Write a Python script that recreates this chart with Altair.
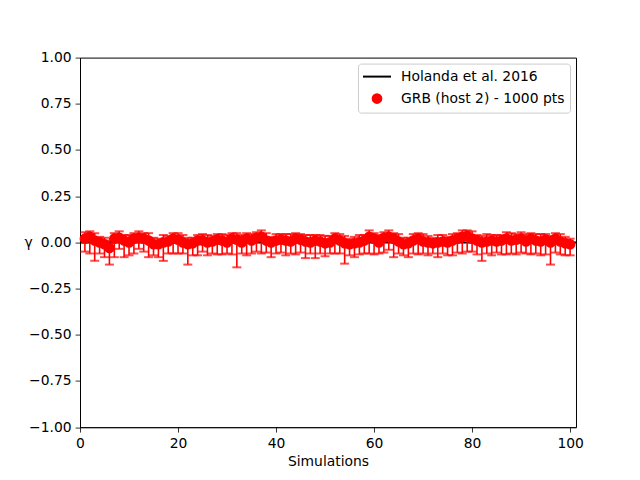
import altair as alt
import pandas as pd

# ---- data ----
sims = list(range(1, 101))
gamma = [0.02, 0.03, 0.01, 0.00, -0.01, -0.03, 0.02, 0.025, 0.01, 0.00,
         0.02, 0.025, 0.02, 0.01, -0.01, -0.01, 0.00, 0.005, 0.02, 0.015,
         0.00, -0.01, -0.005, 0.01, 0.01, 0.00, 0.005, 0.015, 0.01, 0.00,
         0.02, 0.015, 0.00, 0.02, 0.01, 0.025, 0.03, 0.01, 0.00, 0.01,
         0.015, 0.01, 0.005, 0.02, 0.015, 0.005, 0.00, 0.01, 0.005, -0.005,
         0.00, 0.02, 0.01, -0.005, -0.01, -0.005, 0.00, 0.01, 0.03, 0.02,
         0.00, 0.025, 0.03, 0.02, 0.005, -0.01, -0.005, 0.01, 0.02, 0.005,
         0.00, -0.005, 0.00, 0.005, 0.00, 0.01, 0.02, 0.03, 0.035, 0.02,
         0.01, 0.00, 0.005, 0.01, 0.005, 0.01, 0.02, 0.01, 0.015, 0.02,
         0.005, 0.02, 0.01, 0.005, 0.015, 0.00, 0.02, 0.005, -0.005, -0.01]
err_hi = [0.035, 0.03, 0.04, 0.03, 0.035, 0.04, 0.03, 0.035, 0.03, 0.04,
          0.03, 0.035, 0.03, 0.04, 0.035, 0.03, 0.04, 0.03, 0.03, 0.035,
          0.04, 0.035, 0.03, 0.03, 0.035, 0.04, 0.03, 0.03, 0.035, 0.04,
          0.03, 0.035, 0.04, 0.03, 0.035, 0.03, 0.035, 0.04, 0.03, 0.035,
          0.03, 0.035, 0.04, 0.03, 0.03, 0.035, 0.04, 0.03, 0.035, 0.04,
          0.035, 0.03, 0.035, 0.04, 0.03, 0.035, 0.04, 0.03, 0.035, 0.03,
          0.04, 0.03, 0.035, 0.03, 0.04, 0.035, 0.03, 0.035, 0.03, 0.04,
          0.035, 0.03, 0.04, 0.035, 0.03, 0.035, 0.03, 0.035, 0.03, 0.04,
          0.03, 0.035, 0.04, 0.03, 0.035, 0.03, 0.035, 0.04, 0.03, 0.035,
          0.04, 0.03, 0.035, 0.04, 0.03, 0.035, 0.03, 0.04, 0.035, 0.03]
err_lo = [0.07, 0.09, 0.11, 0.06, 0.07, 0.09, 0.10, 0.06, 0.09, 0.07,
          0.08, 0.06, 0.07, 0.09, 0.06, 0.07, 0.10, 0.065, 0.08, 0.075,
          0.06, 0.11, 0.065, 0.08, 0.06, 0.07, 0.065, 0.08, 0.075, 0.06,
          0.085, 0.15, 0.06, 0.09, 0.07, 0.075, 0.09, 0.065, 0.08, 0.07,
          0.07, 0.08, 0.065, 0.085, 0.07, 0.09, 0.06, 0.095, 0.065, 0.07,
          0.06, 0.08, 0.07, 0.11, 0.06, 0.075, 0.065, 0.07, 0.09, 0.085,
          0.06, 0.08, 0.07, 0.10, 0.065, 0.06, 0.075, 0.07, 0.085, 0.065,
          0.07, 0.055, 0.08, 0.065, 0.07, 0.08, 0.075, 0.09, 0.085, 0.07,
          0.075, 0.10, 0.065, 0.08, 0.06, 0.075, 0.085, 0.07, 0.08, 0.075,
          0.065, 0.085, 0.07, 0.075, 0.08, 0.12, 0.075, 0.07, 0.065, 0.06]
holanda_x = [0, 101.2]
holanda_y = [0.0, 0.0]

x_ticks = [0, 20, 40, 60, 80, 100]
y_ticks = [-1.0, -0.75, -0.5, -0.25, 0.0, 0.25, 0.5, 0.75, 1.0]

SER_LINE = "Holanda et al. 2016"
SER_PTS = "GRB (host 2) - 1000 pts"

df = pd.DataFrame({"sim": sims, "gamma": gamma,
                   "hi": [g + e for g, e in zip(gamma, err_hi)],
                   "lo": [g - e for g, e in zip(gamma, err_lo)],
                   "series": SER_PTS})
dl = pd.DataFrame({"sim": holanda_x, "gamma": holanda_y})

FONT = "DejaVu Sans"
xs = alt.Scale(domain=[0, 101.2], nice=False, zero=False)
ys = alt.Scale(domain=[-1, 1], nice=False)

xax = alt.Axis(values=x_ticks, format="d", title="Simulations", grid=False,
               tickSize=4.9, tickWidth=0.8, tickColor="black", domainColor="black",
               domainWidth=0.8, labelPadding=4, labelFontSize=13.9, labelFont=FONT,
               labelColor="black", titleFont=FONT, titleFontSize=13.9,
               titleFontWeight="normal", titleColor="black", titlePadding=5,
               labelFlush=False)
yax = alt.Axis(values=y_ticks, format=".2f", title="γ", grid=False,
               tickSize=4.9, tickWidth=0.8, tickColor="black", domainColor="black",
               domainWidth=0.8, labelPadding=4, labelFontSize=13.9, labelFont=FONT,
               labelColor="black", titleFont=FONT, titleFontSize=13.9,
               titleFontWeight="normal", titleColor="black",
               titleX=-52, titleY=184.8, titleAngle=0, titleAlign="center",
               titleBaseline="middle", labelFlush=False)

line = alt.Chart(dl).mark_line(color="black", strokeWidth=2).encode(
    x=alt.X("sim:Q", scale=xs, axis=xax),
    y=alt.Y("gamma:Q", scale=ys, axis=yax),
)

bars = alt.Chart(df).mark_rule(color="red", strokeWidth=1.6).encode(
    x=alt.X("sim:Q", scale=xs),
    y=alt.Y("lo:Q", scale=ys),
    y2="hi:Q",
)
cap_hi = alt.Chart(df).mark_tick(color="red", orient="horizontal", size=9,
                                 thickness=2).encode(
    x=alt.X("sim:Q", scale=xs), y=alt.Y("hi:Q", scale=ys))
cap_lo = alt.Chart(df).mark_tick(color="red", orient="horizontal", size=9,
                                 thickness=2).encode(
    x=alt.X("sim:Q", scale=xs), y=alt.Y("lo:Q", scale=ys))

CIRCLE = "M-0.62,0A0.62,0.62,0,1,0,0.62,0A0.62,0.62,0,1,0,-0.62,0Z"
dom = [SER_LINE, SER_PTS]
pts = alt.Chart(df).mark_point(filled=True, size=196, opacity=1, strokeWidth=2).encode(
    x=alt.X("sim:Q", scale=xs),
    y=alt.Y("gamma:Q", scale=ys),
    fill=alt.Fill("series:N", scale=alt.Scale(domain=dom, range=["black", "red"]),
                  title=None),
    stroke=alt.Stroke("series:N", scale=alt.Scale(domain=dom, range=["black", "red"]),
                      title=None),
    shape=alt.Shape("series:N", scale=alt.Scale(domain=dom, range=["M-2,0L2,0", CIRCLE]),
                    title=None,
                    legend=alt.Legend(orient="top-right", offset=6, padding=5,
                                      fillColor="white", strokeColor="#cccccc",
                                      cornerRadius=3, labelFont=FONT,
                                      labelFontSize=13.9, labelColor="black",
                                      symbolSize=196, symbolStrokeWidth=2,
                                      symbolOffset=6, rowPadding=6,
                                      labelOffset=16, labelLimit=300)),
)

chart = alt.layer(line, bars, cap_hi, cap_lo, pts).properties(
    width=496, height=369.6,
    background="white",
    autosize=alt.AutoSizeParams(type="none"),
    padding={"left": 72, "top": 49.6, "right": 56, "bottom": 45},
).configure_view(stroke="black", strokeWidth=1)

chart.save("out.html", embed_options={"renderer": "svg", "actions": False})
